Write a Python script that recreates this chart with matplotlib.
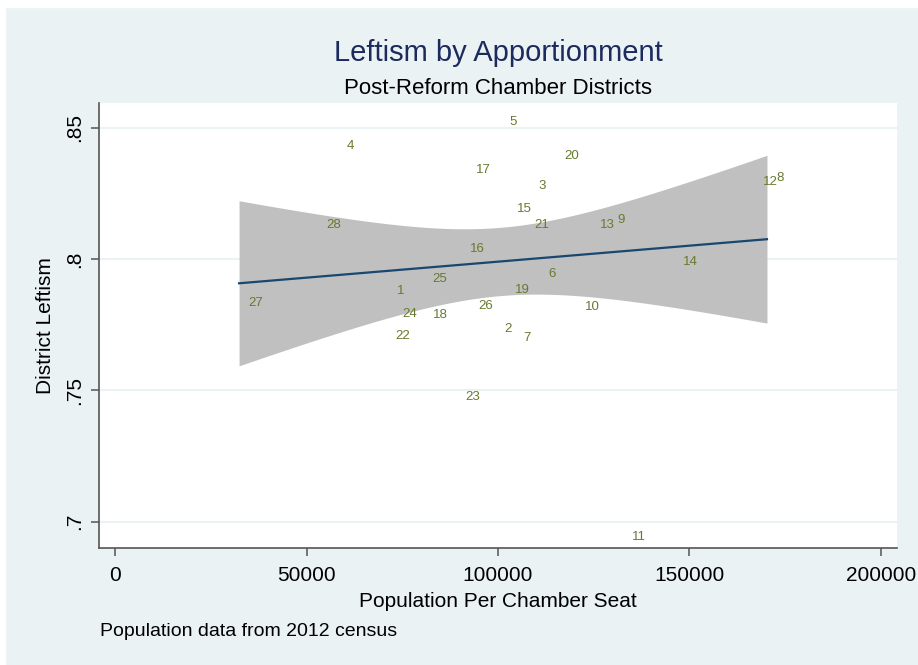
import numpy as np
import matplotlib
matplotlib.use("Agg")
import matplotlib.pyplot as plt
from matplotlib.patches import Rectangle

# district numbers with population per seat and leftism
districts = [1, 2, 3, 4, 5, 6, 7, 8, 9, 10, 11, 12, 13, 14,
             15, 16, 17, 18, 19, 20, 21, 22, 23, 24, 25, 26, 27, 28]
population = [71020, 99220, 108100, 57960, 100520, 110710, 104180, 170240,
              128720, 120110, 132380, 166580, 124020, 145690, 102350, 90080,
              91650, 80420, 101830, 114880, 107050, 70760, 89040, 72590,
              80420, 92430, 32380, 52740]
leftism = [0.7886, 0.7741, 0.8286, 0.8438, 0.8529, 0.7950, 0.7707, 0.8316,
           0.8156, 0.7825, 0.6949, 0.8301, 0.8137, 0.7996, 0.8198, 0.8046,
           0.8347, 0.7794, 0.7890, 0.8400, 0.8137, 0.7714, 0.7482, 0.7798,
           0.7931, 0.7829, 0.7840, 0.8137]

x_ticks = [0, 50000, 100000, 150000, 200000]
y_ticks = [0.70, 0.75, 0.80, 0.85]
y_tick_labels = [".7", ".75", ".8", ".85"]

bg = "#eaf2f3"
label_col = "#667a2e"
line_col = "#1a476f"
band_col = "#c0c0c0"
axis_col = "#555555"

plt.rcParams['font.family'] = ['Liberation Sans', 'DejaVu Sans']

x = np.array(population, dtype=float)
y = np.array(leftism)

# linear fit with 95% CI of the mean (like Stata lfitci)
n = len(x)
b, a = np.polyfit(x, y, 1)
resid = y - (a + b * x)
s = np.sqrt(np.sum(resid ** 2) / (n - 2))
t_crit = 2.0555  # t(0.975, 26)
xs = np.linspace(x.min(), x.max(), 200)
fit = a + b * xs
se = s * np.sqrt(1.0 / n + (xs - x.mean()) ** 2 / np.sum((x - x.mean()) ** 2))
lo = fit - t_crit * se
hi = fit + t_crit * se

fig = plt.figure(figsize=(9.18, 6.65), dpi=100, facecolor=bg)
# white strips at the top and left edge of the screenshot
fig.patches.append(Rectangle((0, 1 - 7 / 665), 1, 7 / 665, transform=fig.transFigure,
                             color="white", zorder=0))
fig.patches.append(Rectangle((0, 0), 5 / 918, 1, transform=fig.transFigure,
                             color="white", zorder=0))

ax = fig.add_axes([99 / 918, 1 - 548 / 665, 798 / 918, 445 / 665])
ax.set_facecolor("white")

for yt in y_ticks:
    ax.axhline(yt, color=bg, lw=1.5, zorder=0)

ax.fill_between(xs, lo, hi, color=band_col, lw=0, zorder=1)
ax.plot(xs, fit, color=line_col, lw=1.6, zorder=2)

for d, px, py in zip(districts, population, leftism):
    ax.annotate(str(d), (px, py), xytext=(7, 0), textcoords="offset points",
                ha="left", va="center_baseline", fontsize=9.5, color=label_col, zorder=3)

ax.set_xlim(-4200, 204200)
ax.set_ylim(0.690, 0.8595)
ax.set_xticks(x_ticks)
ax.set_xticklabels([str(v) for v in x_ticks], fontsize=15)
ax.set_yticks(y_ticks)
ax.set_yticklabels(y_tick_labels, fontsize=15, rotation=90, va="center")

for side in ["top", "right"]:
    ax.spines[side].set_visible(False)
for side in ["left", "bottom"]:
    ax.spines[side].set_color(axis_col)
    ax.spines[side].set_linewidth(1.2)
ax.tick_params(direction="out", length=6, width=1.1, color=axis_col, labelcolor="black")
ax.tick_params(axis="x", pad=7)
ax.tick_params(axis="y", pad=5)

ax.set_xlabel("Population Per Chamber Seat", fontsize=15, labelpad=5)
ax.set_ylabel("District Leftism", fontsize=15, labelpad=7)

fig.text(498 / 918, 1 - 53 / 665, "Leftism by Apportionment", ha="center", va="center",
         fontsize=21, color="#1c2a5e")
fig.text(498 / 918, 1 - 89 / 665, "Post-Reform Chamber Districts", ha="center", va="center",
         fontsize=16, color="black")
fig.text(100 / 918, 1 - 632 / 665, "Population data from 2012 census", ha="left", va="center",
         fontsize=14, color="black")

fig.savefig("out.png", dpi=100, facecolor=bg)
